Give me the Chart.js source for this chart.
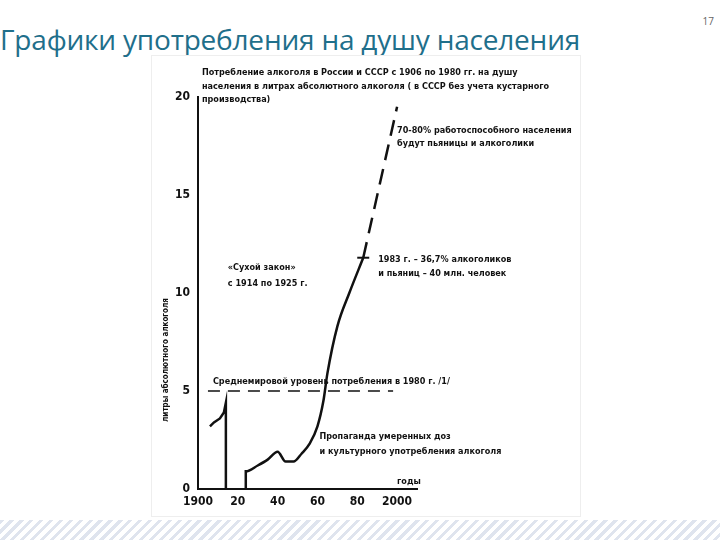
<!DOCTYPE html>
<html><head><meta charset="utf-8">
<script src="https://cdn.jsdelivr.net/npm/chart.js"></script>
<style>
body{margin:0;width:720px;height:540px;background:#fff;position:relative;overflow:hidden;font-family:"Open Sans",sans-serif}
#title{position:absolute;left:0;top:20px;font-size:28px;color:#1f6f8b;white-space:nowrap;letter-spacing:-0.2px}
#num{position:absolute;right:6px;top:14px;font-size:10px;color:#666}
#box{position:absolute;left:152px;top:56px;width:428px;height:460px;background:#fff;box-shadow:0 0 0 1px #eee}
#band{position:absolute;left:0;top:520px;width:720px;height:20px;background:repeating-linear-gradient(135deg,#dfe4ee 0 3px,#fff 3px 7px)}
canvas{position:absolute;left:0;top:0}
</style></head>
<body>
<div id="title">Графики употребления на душу населения</div>
<div id="num">17</div>
<div id="box"></div>
<div id="band"></div>
<canvas id="c" width="720" height="540"></canvas>
<script>
// Consumption, litres of absolute alcohol per person
const preYears = [1906, 1908, 1911, 1913, 1914, 1914];
const preValues = [3.2, 3.4, 3.6, 3.9, 4.4, 0];
const sovYears = [1924, 1924, 1930, 1935, 1940, 1944, 1948, 1952, 1956, 1960, 1963, 1965, 1970, 1976, 1983];
const sovValues = [0, 0.9, 1.2, 1.5, 1.9, 1.4, 1.4, 1.8, 2.3, 3.2, 4.5, 5.9, 8.3, 10.0, 11.8];
const forecastYears = [1983, 2000];
const forecastValues = [11.8, 19.5];
const worldYears = [1905, 1998];
const worldValues = [5, 5];
const xTicks = [1900, 1920, 1940, 1960, 1980, 2000];
const xTickLabels = ['1900', '20', '40', '60', '80', '2000'];
const yTicks = [0, 5, 10, 15, 20];

const notes = [
  [1902, 21.25, 'Потребление алкоголя в России и СССР с 1906 по 1980 гг. на душу'],
  [1902, 20.55, 'населения в литрах абсолютного алкоголя ( в СССР без учета кустарного'],
  [1902, 19.85, 'производства)'],
  [2000, 18.3, '70-80% работоспособного населения'],
  [2000, 17.6, 'будут пьяницы и алкоголики'],
  [1990.5, 11.7, '1983 г. – 36,7% алкоголиков'],
  [1990.5, 11.0, 'и пьяниц – 40 млн. человек'],
  [1915, 11.3, '«Сухой закон»'],
  [1915, 10.5, 'с 1914 по 1925 г.'],
  [1907.5, 5.5, 'Среднемировой уровень потребления в 1980 г. /1/'],
  [1961, 2.65, 'Пропаганда умеренных доз'],
  [1961, 1.9, 'и культурного употребления алкоголя'],
  [2000, 0.4, 'годы']
];

const pts = (xs, ys) => xs.map((x, i) => ({x: x, y: ys[i]}));
const font = {family: '"DejaVu Sans Condensed","DejaVu Sans",sans-serif', weight: 'bold', size: 12};

const notePlugin = {
  id: 'notes',
  afterDraw(chart) {
    const ctx = chart.ctx, xs = chart.scales.x, ys = chart.scales.y;
    ctx.save();
    ctx.fillStyle = '#111';
    ctx.font = 'bold 9px "DejaVu Sans Condensed","DejaVu Sans",sans-serif';
    ctx.textBaseline = 'middle';
    notes.forEach(n => ctx.fillText(n[2], xs.getPixelForValue(n[0]), ys.getPixelForValue(n[1])));
    // tick across the line at 1983
    const px = xs.getPixelForValue(1983), py = ys.getPixelForValue(11.8);
    ctx.strokeStyle = '#111'; ctx.lineWidth = 2;
    ctx.beginPath(); ctx.moveTo(px - 6, py); ctx.lineTo(px + 6, py); ctx.stroke();
    // y axis title
    ctx.translate(166, 360); ctx.rotate(-Math.PI / 2);
    ctx.textAlign = 'center';
    ctx.font = 'bold 8px "DejaVu Sans Condensed","DejaVu Sans",sans-serif';
    ctx.fillText('литры абсолютного алкоголя', 0, 0);
    ctx.restore();
  }
};

new Chart(document.getElementById('c').getContext('2d'), {
  type: 'line',
  data: {datasets: [
    {data: pts(preYears, preValues), borderColor: '#111', borderWidth: 2.5, pointRadius: 0},
    {data: pts(sovYears, sovValues), borderColor: '#111', borderWidth: 2.5, pointRadius: 0, cubicInterpolationMode: 'monotone'},
    {data: pts(forecastYears, forecastValues), borderColor: '#111', borderWidth: 2.5, pointRadius: 0, borderDash: [16, 9]},
    {data: pts(worldYears, worldValues), borderColor: '#111', borderWidth: 1.5, pointRadius: 0, borderDash: [12, 8]}
  ]},
  options: {
    responsive: false,
    animation: false,
    layout: {padding: {left: 168, right: 303, top: 97, bottom: 26}},
    plugins: {legend: {display: false}, tooltip: {enabled: false}},
    scales: {
      x: {
        type: 'linear', min: 1900, max: 2010,
        afterFit: s => { s.height = 25; },
        afterBuildTicks: s => { s.ticks = xTicks.map(v => ({value: v})); },
        grid: {display: false, drawTicks: false},
        border: {color: '#111', width: 2},
        ticks: {color: '#111', font: font, padding: 6, maxRotation: 0,
          callback: v => xTickLabels[xTicks.indexOf(v)]}
      },
      y: {
        min: 0, max: 20,
        afterFit: s => { s.width = 30; },
        afterBuildTicks: s => { s.ticks = yTicks.map(v => ({value: v})); },
        grid: {display: false, drawTicks: false},
        border: {color: '#111', width: 2},
        ticks: {color: '#111', font: font, padding: 8}
      }
    }
  },
  plugins: [notePlugin]
});
</script>
</body></html>
